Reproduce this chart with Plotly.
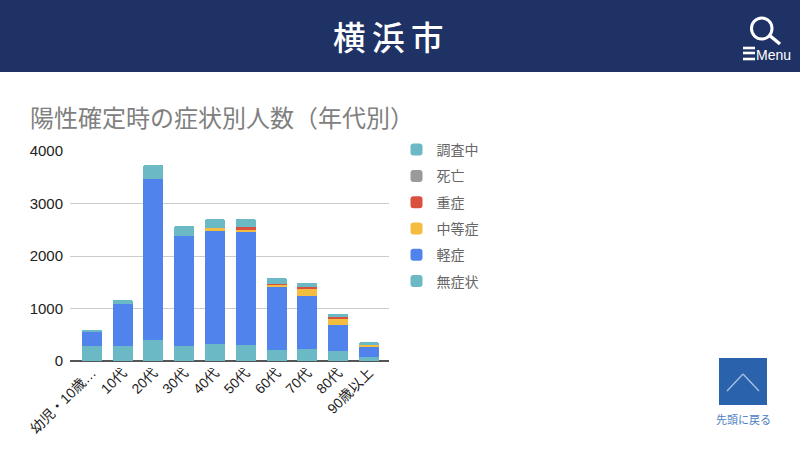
import plotly.graph_objects as go

W, H = 800, 450
L, R, T, B = 70, 389, 151, 361
FONT = "Liberation Sans, Arimo, Noto Sans CJK JP, sans-serif"
CJK = "Noto Sans CJK JP, sans-serif"

categories = ["幼児・10歳…", "10代", "20代", "30代", "40代", "50代", "60代", "70代", "80代", "90歳以上"]
asymptomatic = [286, 286, 400, 286, 330, 305, 216, 235, 190, 76]
mild = [279, 800, 3060, 2101, 2165, 2171, 1194, 1009, 502, 203]
moderate = [0, 0, 0, 0, 38, 38, 38, 127, 108, 26]
severe = [0, 0, 0, 0, 0, 32, 25, 39, 38, 0]
deceased = [0, 0, 0, 0, 0, 0, 0, 0, 0, 0]
investigating = [19, 69, 273, 178, 165, 152, 108, 82, 64, 50]

series = [
    ("無症状", asymptomatic, "#6bb9c5"),
    ("軽症", mild, "#5183ec"),
    ("中等症", moderate, "#f4bd3f"),
    ("重症", severe, "#d9503f"),
    ("死亡", deceased, "#9a9a9a"),
    ("調査中", investigating, "#6bb9c5"),
]


def px(x):
    return (x - L) / (R - L)


def py(y):
    return (B - y) / (B - T)


fig = go.Figure()
for i, (name, values, color) in enumerate(series):
    fig.add_trace(go.Bar(
        x=categories, y=values, name=name, legendgroup=name, legendrank=100 - i,
        marker=dict(color=color, line=dict(width=0)),
    ))

shapes = [
    dict(type="rect", x0=px(0), x1=px(W), y0=py(72), y1=py(0), fillcolor="#1f3265", line_width=0),
    dict(type="circle", x0=px(751.5), x1=px(772), y0=py(39), y1=py(18), line=dict(color="white", width=3)),
    dict(type="line", x0=px(769), x1=px(780), y0=py(35), y1=py(44), line=dict(color="white", width=3.5)),
    dict(type="rect", x0=px(719), x1=px(767), y0=py(405), y1=py(358), fillcolor="#2a62ac", line_width=0),
    dict(type="line", x0=px(727), x1=px(743), y0=py(391), y1=py(374), line=dict(color="#a5c3e2", width=1.3)),
    dict(type="line", x0=px(743), x1=px(759), y0=py(374), y1=py(391), line=dict(color="#a5c3e2", width=1.3)),
]
for y in (48, 53, 59):
    shapes.append(dict(type="line", x0=px(743), x1=px(755), y0=py(y), y1=py(y), line=dict(color="white", width=2.6)))
for s in shapes:
    s.update(xref="paper", yref="paper")

annotations = [
    dict(text="横\u2009浜\u2009市", x=px(388.5), y=py(36), font=dict(family=CJK, size=32.5, color="white", weight=500)),
    dict(text="Menu", x=px(773), y=py(55), font=dict(family=FONT, size=14, color="white")),
    dict(text="陽性確定時の症状別人数（年代別）", x=px(222), y=py(117), font=dict(family=CJK, size=24, color="#808080")),
    dict(text="先頭に戻る", x=px(743.5), y=py(419), font=dict(family=CJK, size=11, color="#4a80c4")),
]
for a in annotations:
    a.update(xref="paper", yref="paper", showarrow=False, xanchor="center", yanchor="middle")

fig.update_layout(
    width=W, height=H, autosize=False,
    margin=dict(l=L, r=W - R, t=T, b=H - B, pad=0),
    paper_bgcolor="white", plot_bgcolor="white",
    barmode="stack", bargap=0.35, barcornerradius=1,
    shapes=shapes, annotations=annotations,
    font=dict(family=FONT, color="#222222"),
    legend=dict(
        x=px(396.5), y=py(134), xanchor="left", yanchor="top",
        traceorder="grouped", tracegroupgap=5.1,
        font=dict(family=CJK, size=14, color="#666666"),
        bgcolor="rgba(0,0,0,0)",
    ),
    xaxis=dict(
        range=[-0.71, 9.65], type="category", automargin=False,
        tickangle=-45, tickfont=dict(size=14, family=FONT, color="#222222"),
        showgrid=False, ticks="", showline=False, zeroline=False,
    ),
    yaxis=dict(
        range=[0, 4000], tickvals=[0, 1000, 2000, 3000, 4000], automargin=False,
        tickfont=dict(size=15, family=FONT, color="#222222"), ticklabelstandoff=6,
        gridcolor="#cccccc", gridwidth=1, zeroline=True, zerolinecolor="#555555", zerolinewidth=1.5,
        showline=False, ticks="",
    ),
)
fig.write_html("out.html", config={"displayModeBar": False}, post_script="document.body.style.margin='0';")
